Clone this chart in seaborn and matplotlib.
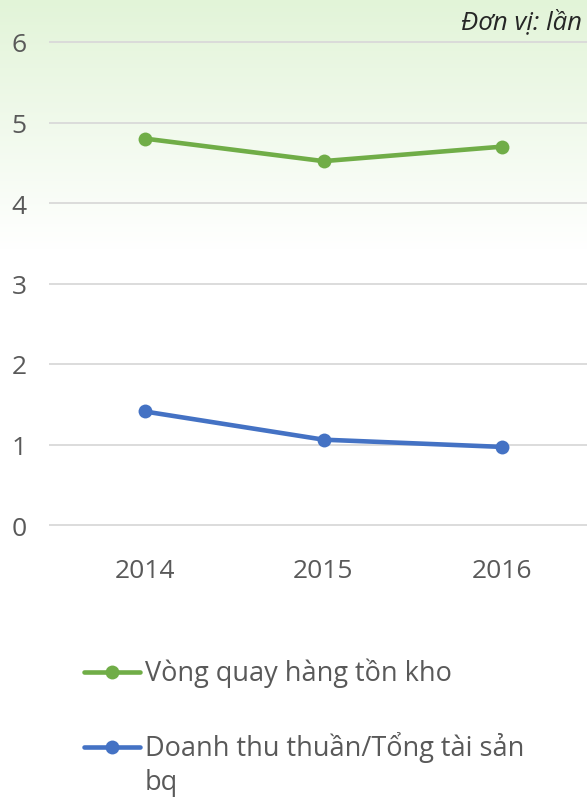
import numpy as np
import pandas as pd
import matplotlib
matplotlib.use("Agg")
import matplotlib.pyplot as plt
from matplotlib.lines import Line2D
import seaborn as sns

years = ["2014", "2015", "2016"]
inventory_turnover = [4.80, 4.52, 4.70]
asset_turnover = [1.41, 1.06, 0.97]
series_names = ["Vòng quay hàng tồn kho", "Doanh thu thuần/Tổng tài sản bq"]
yticks = [0, 1, 2, 3, 4, 5, 6]

sns.set_style("white")
plt.rcParams['font.family'] = ['Open Sans', 'DejaVu Sans']

W, H = 587, 803
fig = plt.figure(figsize=(W / 100, H / 100), dpi=100)

# background gradient
bg = fig.add_axes([0, 0, 1, 1], zorder=-10)
n = 803
t = np.clip(np.arange(n) / 250.0, 0, 1)[:, None]
top = np.array([226, 244, 216]) / 255.0
white = np.ones(3)
grad = (top[None, :] * (1 - t) + white[None, :] * t)[:, None, :]
bg.imshow(grad, aspect='auto', extent=[0, 1, 0, 1], origin='upper')
bg.axis('off')

# main axes: y 0 at px 526, 6 at px 43
ppu = (526 - 43) / 6.0
ymin, ymax = -0.06, 6.06
bot_px = 526 + 0.06 * ppu
top_px = 43 - 0.06 * ppu
left_px, right_px = 49, 587
ax = fig.add_axes([left_px / W, 1 - bot_px / H, (right_px - left_px) / W, (bot_px - top_px) / H])
ax.set_facecolor('none')

df = pd.DataFrame({
    "year": years * 2,
    "value": inventory_turnover + asset_turnover,
    "series": [series_names[0]] * 3 + [series_names[1]] * 3,
})
green, blue = "#70AD47", "#4472C4"
sns.lineplot(data=df, x="year", y="value", hue="series", palette=[green, blue],
             marker="o", markersize=10, markeredgewidth=0, linewidth=3.3,
             legend=False, ax=ax, zorder=3)

ppx = 178.5
ax.set_xlim(-(145 - left_px) / ppx, 2 + (right_px - 502) / ppx)
ax.set_ylim(ymin, ymax)
ax.set_yticks(yticks)
ax.yaxis.grid(True, color="#D9D9D9", linewidth=1.3)
ax.xaxis.grid(False)
for s in ax.spines.values():
    s.set_visible(False)
ax.set_xlabel("")
ax.set_ylabel("")
ax.tick_params(axis='y', length=0, pad=16, labelsize=19, labelcolor="#595959")
ax.tick_params(axis='x', length=0, pad=20, labelsize=19, labelcolor="#595959")

fig.text(582 / W, 1 - 22 / H, "Đơn vị: lần", ha='right', va='center',
         style='italic', fontsize=18.5, color="#262626")

# legend
leg_y = [673, 748]
cols = [green, blue]
for yy, c in zip(leg_y, cols):
    fy = 1 - yy / H
    fig.add_artist(Line2D([84 / W, 140 / W], [fy, fy], color=c, linewidth=3.3,
                          transform=fig.transFigure))
    fig.add_artist(Line2D([112 / W], [fy], color=c, marker='o', markersize=10,
                          markeredgewidth=0, transform=fig.transFigure))
fs_leg = 19.5
fig.text(145 / W, 1 - 673 / H, series_names[0], ha='left', va='center',
         fontsize=fs_leg, color="#595959")
fig.text(145 / W, 1 - 748 / H, "Doanh thu thuần/Tổng tài sản", ha='left', va='center',
         fontsize=fs_leg, color="#595959")
fig.text(145 / W, 1 - 783 / H, "bq", ha='left', va='center',
         fontsize=fs_leg, color="#595959")

fig.savefig("out.png", dpi=100)
